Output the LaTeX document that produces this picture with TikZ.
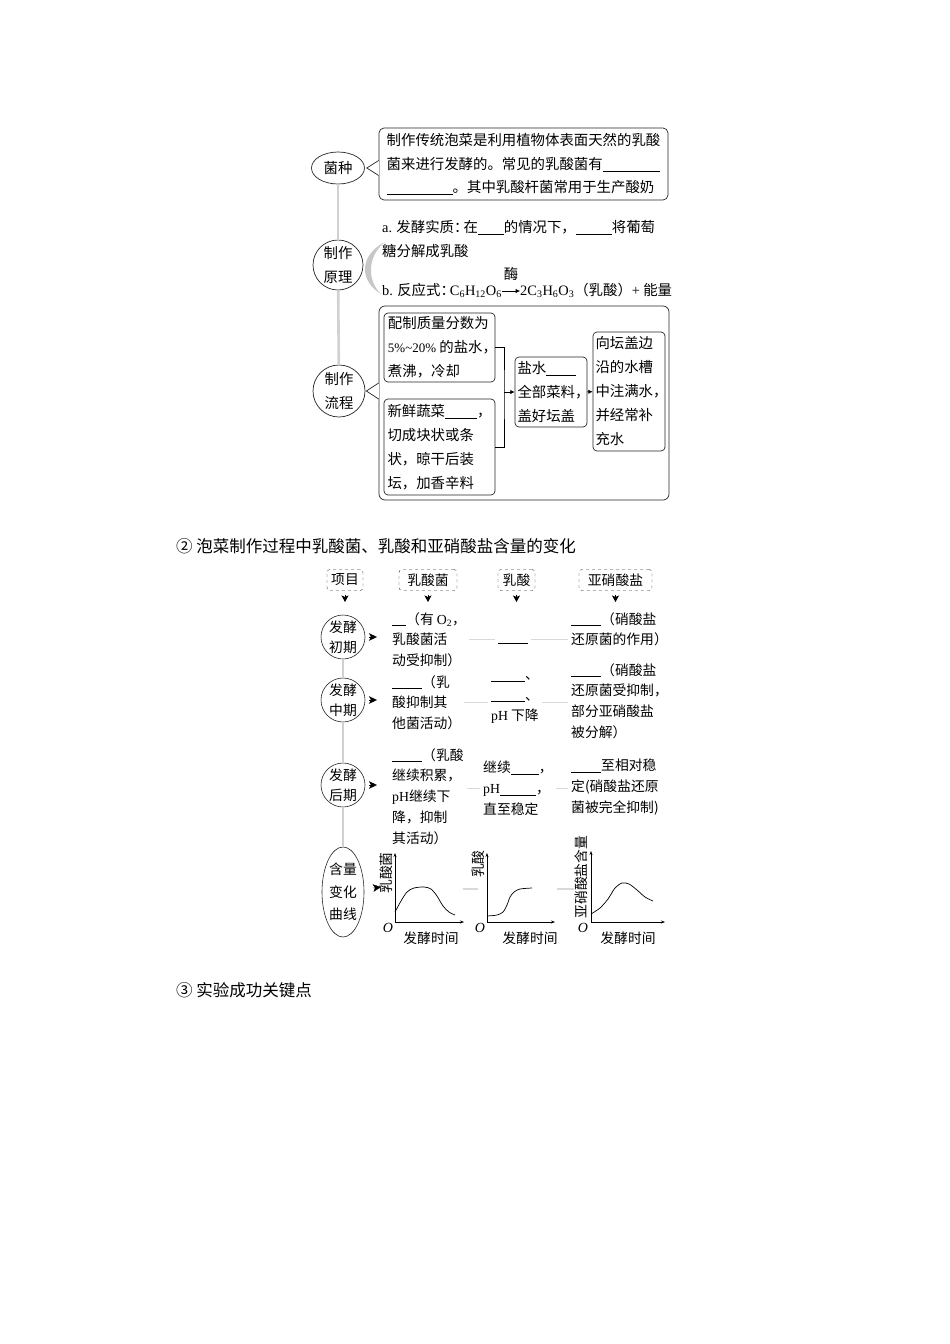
\documentclass[tikz,border=0pt]{standalone}
\usepackage{fontspec}
\setmainfont{Liberation Serif}
\newfontfamily\cjk{Noto Sans CJK SC}
\usetikzlibrary{arrows.meta,shapes,positioning}
\tikzset{>={Latex[width=1.5mm,length=1.5mm]}}
\tikzset{every node/.style={font=\cjk}}
\tikzset{bigtext/.style={font=\cjk\fontsize{14.4}{24}\selectfont}}
\tikzset{smalltext/.style={font=\cjk\fontsize{13.8}{20.75}\selectfont}}
\tikzset{bubble/.style={draw=black!85, line width=0.7pt, inner sep=0pt, align=center, bigtext}}
\tikzset{stage/.style={shape=circle, draw=black!85, line width=0.6pt, inner sep=0pt,
    minimum size=44pt, align=center, font=\cjk\fontsize{13.8}{20}\selectfont}}
\tikzset{box/.style={draw=black!85, line width=0.7pt, rounded corners=4pt, inner sep=0pt,
    align=left, bigtext}}
\tikzset{headbox/.style={draw=black!80, dashed, rounded corners=3pt, minimum height=21pt,
    inner sep=0pt, smalltext}}
\tikzset{coltext/.style={smalltext, align=left, inner sep=0pt, anchor=north west}}
\tikzset{stemline/.style={line width=2.6pt, draw=black!18}}
\tikzset{dashlink/.style={line width=1.6pt, draw=black!15, shorten <=3pt, shorten >=3pt}}
\tikzset{downarrow/.style={-{Stealth[length=6.5pt,width=7pt,inset=1.5pt]}, line width=0.8pt, shorten <=4pt}}
\tikzset{rpoint/.style={-{Stealth[length=8pt,width=7.5pt,inset=2pt]}, shorten <=4pt, shorten >=15pt}}
\tikzset{plotaxes/.style={line width=0.6pt, {Stealth[length=4pt,width=3pt]}-{Stealth[length=4pt,width=3pt]}}}
\tikzset{plotcurve/.style={line width=0.7pt}}
\newcommand{\fillin}[1]{\rule[-2pt]{#1pt}{0.6pt}}
\newcommand{\lat}[1]{{\rmfamily #1}}

\begin{document}
\begin{tikzpicture}[x=1pt, y=-1pt]
    \path[fill=white, use as bounding box] (0,0) rectangle (950,1344);

    % 泡菜的制作
    \node(jz)[bubble, shape=ellipse, minimum width=53pt, minimum height=32pt] at (338,168) {菌种};
    \node(yl)[bubble, shape=circle, minimum size=50pt] at (338,265) {制作\\原理};
    \node(lc)[bubble, shape=circle, minimum size=52pt] at (339,391) {制作\\流程};
    \draw [stemline] (jz) -- (yl);
    \draw [stemline] (yl) -- (lc);

    \node(zbox)[box, rounded corners=5pt, minimum width=289pt, minimum height=72pt,
        font=\cjk\fontsize{14.4}{23.5}\selectfont] at (523.5,164)
        {制作传统泡菜是利用植物体表面天然的乳酸\\菌来进行发酵的。常见的乳酸菌有\fillin{57}\\\fillin{66}。其中乳酸杆菌常用于生产酸奶};
    \coordinate (n1) at (zbox.west |- jz);
    \draw [white, line width=1.6pt] ([yshift=7.5pt]n1) -- ([yshift=-7.5pt]n1);
    \draw [draw=black!85, line width=0.7pt] ([yshift=7.5pt]n1) -- ([xshift=2pt]jz.east) -- ([yshift=-7.5pt]n1);

    \fill [black!22] (385,242) .. controls (359,255) and (359,281) .. (381,294)
        .. controls (367,281) and (367,256) .. (385,242) -- cycle;
    \node(ya)[bigtext, align=left, inner sep=0pt, anchor=north west] at (382,220)
        {\lat{a.} 发酵实质：\kern-5pt 在\fillin{26}的情况下，\fillin{36}将葡萄\\糖分解成乳酸};
    \node(yb1)[bigtext, inner sep=0pt, anchor=base west] at (382,295.5)
        {\lat{b.} 反应式：\kern-5pt\lat{C\textsubscript{6}H\textsubscript{12}O\textsubscript{6}}};
    \node(yb2)[bigtext, inner sep=0pt, anchor=base west] at (520,295.5)
        {\lat{2C\textsubscript{3}H\textsubscript{6}O\textsubscript{3}}（乳酸）\lat{+} 能量};
    \draw [->, line width=0.6pt] ([yshift=4.5pt]yb1.base east) -- ([yshift=4.5pt]yb2.base west)
        node [midway, above=10pt, bigtext, inner sep=0pt] {酶};

    \node(lbox)[box, rounded corners=6pt, minimum width=290pt, minimum height=194pt] at (524,403) {};
    \coordinate (n2) at (lbox.west |- lc);
    \draw [white, line width=1.6pt] ([yshift=8pt]n2) -- ([yshift=-8pt]n2);
    \draw [draw=black!85, line width=0.7pt] ([yshift=8pt]n2) -- ([xshift=1pt]lc.east) -- ([yshift=-8pt]n2);

    \node(s1)[box, minimum width=111pt, minimum height=69pt] at (439.5,347.5)
        {配制质量分数为\\\lat{\fontsize{13}{24}\selectfont 5\%\textasciitilde 20\%} 的盐水，\kern-6pt\\煮沸，冷却};
    \node(s2)[box, minimum width=111pt, minimum height=96pt] at (439.5,447)
        {新鲜蔬菜\fillin{32}，\\切成块状或条\\状，晾干后装\\坛，加香辛料};
    \node(s3)[box, minimum width=72pt, minimum height=70pt] at (551,392)
        {盐水\fillin{30}\\全部菜料，\kern-5pt\\盖好坛盖};
    \node(s4)[box, minimum width=72pt, minimum height=119pt] at (629,391.5)
        {向坛盖边\\沿的水槽\\中注满水，\kern-5pt\\并经常补\\充水};
    \coordinate (jn) at (504,392);
    \draw [line width=0.7pt] (s1.east) -| (jn) |- (s2.east);
    \draw [->, line width=0.7pt] (jn) -- (s3);
    \draw [->, line width=0.7pt] (s3) -- (s4);

    % 含量的变化
    \node(sec2)[font=\cjk\fontsize{16.5}{20}\selectfont, inner sep=0pt, anchor=base west] at (176,552)
        {② 泡菜制作过程中乳酸菌、乳酸和亚硝酸盐含量的变化};

    \node(h1)[headbox, minimum width=36pt] at (345,580) {项目};
    \node(h2)[headbox, minimum width=58pt] at (428,580) {乳酸菌};
    \node(h3)[headbox, minimum width=37pt] at (516.5,580) {乳酸};
    \node(h4)[headbox, minimum width=73pt] at (615.5,580) {亚硝酸盐};
    \coordinate (d1) at (345,602);
    \coordinate (d2) at (428,602);
    \coordinate (d3) at (516.5,602);
    \coordinate (d4) at (615.5,602);
    \draw [downarrow] (h1) -- (d1);
    \draw [downarrow] (h2) -- (d2);
    \draw [downarrow] (h3) -- (d3);
    \draw [downarrow] (h4) -- (d4);

    \node(c1)[stage] at (343,637) {发酵\\初期};
    \node(c2)[stage] at (343,700) {发酵\\中期};
    \node(c3)[stage] at (343,785) {发酵\\后期};
    \node(c4)[stage, shape=ellipse, minimum width=42pt, minimum height=90pt,
        font=\cjk\fontsize{13.8}{22.5}\selectfont] at (343,892) {含量\\变化\\曲线};
    \draw [stemline, line width=2pt] (c1) -- (c2);
    \draw [stemline, line width=2pt] (c2) -- (c3);
    \draw [stemline, line width=2pt] (c3) -- (c4);

    \node(r1a)[coltext] at (392,612) {\fillin{14}（有 \lat{O\textsubscript{2}}，\\乳酸菌活\\动受抑制）};
    \node(r1b)[inner sep=0pt] at (513,643) {\fillin{30}};
    \node(r1c)[coltext] at (571,612) {\fillin{30}（硝酸盐\\还原菌的作用）};

    \node(r2a)[coltext] at (392,675) {\fillin{30}（乳\\酸抑制其\\他菌活动）};
    \node(r2b)[coltext] at (491,676) {\fillin{34}、\\\fillin{34}、\\\lat{pH} 下降};
    \node(r2c)[coltext] at (571,663) {\fillin{30}（硝酸盐\\还原菌受抑制，\\部分亚硝酸盐\\被分解）};

    \node(r3a)[coltext] at (392,748) {\fillin{30}（乳酸\\继续积累，\\\lat{pH}继续下\\降，抑制\\其活动）};
    \node(r3b)[coltext] at (483,761) {继续\fillin{28}，\\\lat{pH}\fillin{36}，\\直至稳定};
    \node(r3c)[coltext] at (571,759) {\fillin{30}至相对稳\\定(硝酸盐还原\\菌被完全抑制)};

    \draw [rpoint] (c1) -- (c1 -| r1a.west);
    \draw [rpoint] (c2) -- (c2 -| r2a.west);
    \draw [rpoint] (c3) -- (c3 -| r3a.west);
    \coordinate (g1) at (381,887);
    \draw [rpoint, shorten >=0pt, shorten <=9pt] (c4) -- (g1);

    \draw [dashlink] (r1a.east) -- (r1a.east -| r1b.west);
    \draw [dashlink] (r1a.east -| r1b.east) -- (r1a.east -| r1c.west);
    \draw [dashlink] (r2a.east) -- (r2a.east -| r2b.west);
    \draw [dashlink] (r2a.east -| r2b.east) -- (r2a.east -| r2c.west);
    \draw [dashlink] (r3b.west -| r3a.east) -- (r3b.west);
    \draw [dashlink] (r3b.east) -- (r3b.east -| r3c.west);

    % 三条曲线
    \draw [plotaxes] (395,853) -- (395,922) -- (464,922);
    \draw [plotcurve] plot[smooth] coordinates {(395,912) (401,901) (407,892) (414,888) (424,887)
        (431,889) (437,896) (443,906) (449,912) (455,915)};
    \draw [plotaxes] (487,853) -- (487,922) -- (555,922);
    \draw [plotcurve] plot[smooth] coordinates {(487,916) (497,915) (503,912) (507,905) (510,897)
        (514,892) (520,889) (532,888)};
    \draw [plotaxes] (591,851) -- (591,922) -- (665,922);
    \draw [plotcurve] plot[smooth] coordinates {(591,914) (600,908) (608,899) (615,888) (622,883)
        (629,884) (637,890) (645,897) (653,901)};

    \node(l1)[smalltext, rotate=90, inner sep=0pt] at (386,873) {乳酸菌};
    \node(l2)[smalltext, rotate=90, inner sep=0pt] at (478,864) {乳酸};
    \node(l3)[smalltext, rotate=90, inner sep=0pt] at (581,877) {亚硝酸盐含量};
    \node(z1)[font=\rmfamily\itshape\fontsize{14}{14}\selectfont, inner sep=0pt] at (388,928) {O};
    \node(z2)[font=\rmfamily\itshape\fontsize{14}{14}\selectfont, inner sep=0pt] at (480,928) {O};
    \node(z3)[font=\rmfamily\itshape\fontsize{14}{14}\selectfont, inner sep=0pt] at (583,928) {O};
    \node(t1)[smalltext, inner sep=0pt] at (431,938) {发酵时间};
    \node(t2)[smalltext, inner sep=0pt] at (530,938) {发酵时间};
    \node(t3)[smalltext, inner sep=0pt] at (628,938) {发酵时间};

    \coordinate (k1) at (463,889);
    \coordinate (k2) at (478,889);
    \coordinate (k3) at (557,889);
    \coordinate (k4) at (574,889);
    \draw [dashlink, shorten <=0pt, shorten >=0pt] (k1) -- (k2);
    \draw [dashlink, shorten <=0pt, shorten >=0pt] (k3) -- (k4);

    \node(sec3)[font=\cjk\fontsize{16.5}{20}\selectfont, inner sep=0pt, anchor=base west] at (176,996)
        {③ 实验成功关键点};
\end{tikzpicture}
\end{document}
